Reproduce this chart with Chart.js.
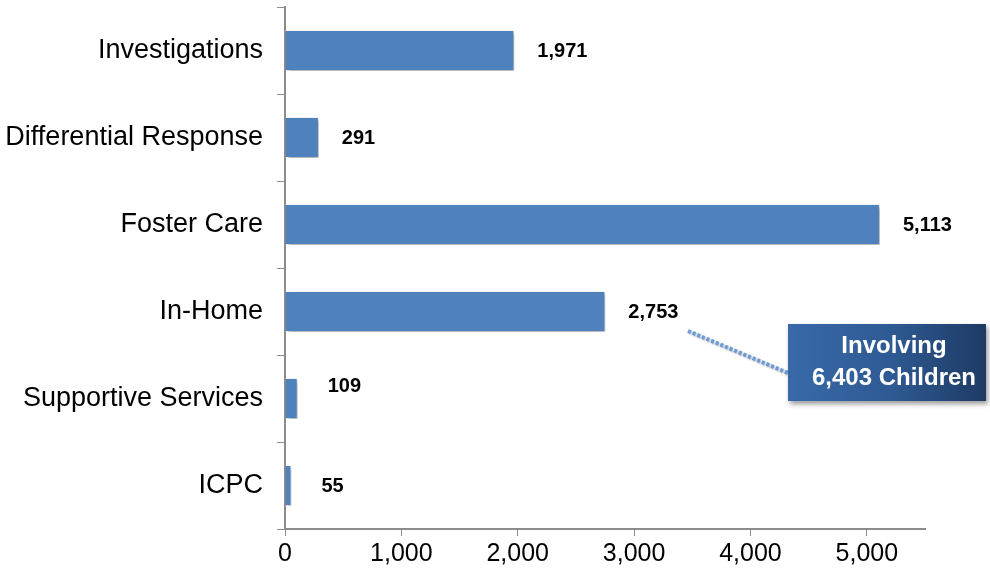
<!DOCTYPE html>
<html>
<head>
<meta charset="utf-8">
<script src="https://cdn.jsdelivr.net/npm/chart.js@4.4.1/dist/chart.umd.min.js"></script>
<style>
  html, body { margin: 0; padding: 0; background: #fff; }
  #wrap { width: 990px; height: 575px; }
</style>
</head>
<body>
<div id="wrap"><canvas id="bar-chart"></canvas></div>
<script>
const categories = ["Investigations", "Differential Response", "Foster Care", "In-Home", "Supportive Services", "ICPC"];
const caseCounts = [1971, 291, 5113, 2753, 109, 55];
const xTicks = [0, 1000, 2000, 3000, 4000, 5000];
const calloutLines = ["Involving", "6,403 Children"];

const FONT = "'Liberation Sans', Arial, sans-serif";

// shadow under the bars
const barShadow = {
  id: 'barShadow',
  beforeDatasetsDraw(chart) {
    const ctx = chart.ctx;
    ctx.save();
    ctx.shadowColor = 'rgba(0,0,0,0.35)';
    ctx.shadowBlur = 4;
    ctx.shadowOffsetX = 2;
    ctx.shadowOffsetY = 2;
  },
  afterDatasetsDraw(chart) {
    chart.ctx.restore();
  }
};

// value labels at the bar ends
const valueLabels = {
  id: 'valueLabels',
  afterDatasetsDraw(chart) {
    const ctx = chart.ctx;
    const meta = chart.getDatasetMeta(0);
    ctx.save();
    ctx.font = "bold 20px " + FONT;
    ctx.fillStyle = '#000';
    ctx.textBaseline = 'middle';
    ctx.textAlign = 'left';
    meta.data.forEach((bar, i) => {
      const v = chart.data.datasets[0].data[i];
      const gap = v < 200 ? 30 : 23;
      ctx.fillText(v.toLocaleString('en-US'), bar.x + gap, bar.y + (i === 4 ? -12 : 1));
    });
    ctx.restore();
  }
};

// callout box with dotted leader
const callout = {
  id: 'callout',
  afterDraw(chart) {
    const ctx = chart.ctx;
    const bx = 788, by = 324, bw = 198, bh = 77;
    ctx.save();
    // leader line
    ctx.strokeStyle = '#6a9bd8';
    ctx.lineWidth = 4;
    ctx.setLineDash([3, 2]);
    ctx.shadowColor = 'rgba(0,0,0,0.3)';
    ctx.shadowBlur = 2;
    ctx.shadowOffsetX = 1;
    ctx.shadowOffsetY = 1;
    ctx.beginPath();
    ctx.moveTo(688, 331);
    ctx.lineTo(788, 373);
    ctx.stroke();
    ctx.setLineDash([]);
    // box
    const g = ctx.createLinearGradient(bx, 0, bx + bw, 0);
    g.addColorStop(0, '#3869a8');
    g.addColorStop(0.5, '#2f5b95');
    g.addColorStop(1, '#1e3a63');
    ctx.shadowColor = 'rgba(0,0,0,0.4)';
    ctx.shadowBlur = 5;
    ctx.shadowOffsetX = 2;
    ctx.shadowOffsetY = 3;
    ctx.fillStyle = g;
    ctx.fillRect(bx, by, bw, bh);
    ctx.shadowColor = 'transparent';
    ctx.fillStyle = '#fff';
    ctx.font = "bold 24px " + FONT;
    ctx.textAlign = 'center';
    ctx.textBaseline = 'middle';
    ctx.fillText(calloutLines[0], 894, by + 22);
    ctx.fillText(calloutLines[1], 894, by + 54);
    ctx.restore();
  }
};

new Chart(document.getElementById("bar-chart"), {
  type: 'bar',
  data: {
    labels: categories,
    datasets: [
      {
        data: caseCounts,
        backgroundColor: "#4f81bd",
        borderColor: "rgba(255,255,255,0.45)",
        borderWidth: 1,
        barPercentage: 0.47,
        categoryPercentage: 1
      }
    ]
  },
  plugins: [barShadow, valueLabels, callout],
  options: {
    indexAxis: 'y',
    responsive: true,
    maintainAspectRatio: false,
    animation: false,
    layout: { padding: { top: 7, right: 65, left: 0, bottom: 0 } },
    plugins: {
      legend: { display: false },
      tooltip: { enabled: false }
    },
    scales: {
      x: {
        min: 0,
        max: 5500,
        afterBuildTicks: axis => { axis.ticks = xTicks.map(v => ({ value: v })); },
        afterFit: scale => { scale.height = 46; scale.paddingRight = 0; scale.paddingLeft = 0; },
        grid: {
          drawOnChartArea: false,
          tickLength: 7,
          tickColor: '#8c8c8c',
          color: '#8c8c8c'
        },
        border: { color: '#8c8c8c', width: 2 },
        ticks: {
          padding: 3,
          color: '#000',
          font: { family: FONT, size: 25 },
          callback: v => v.toLocaleString('en-US')
        }
      },
      y: {
        afterFit: scale => { scale.width = 285; scale.paddingTop = 0; scale.paddingBottom = 0; },
        grid: {
          drawOnChartArea: false,
          offset: true,
          tickLength: 8,
          tickColor: '#8c8c8c'
        },
        border: { color: '#8c8c8c', width: 2 },
        ticks: {
          padding: 14,
          color: '#000',
          font: { family: FONT, size: 27 }
        }
      }
    }
  }
});
</script>
</body>
</html>
